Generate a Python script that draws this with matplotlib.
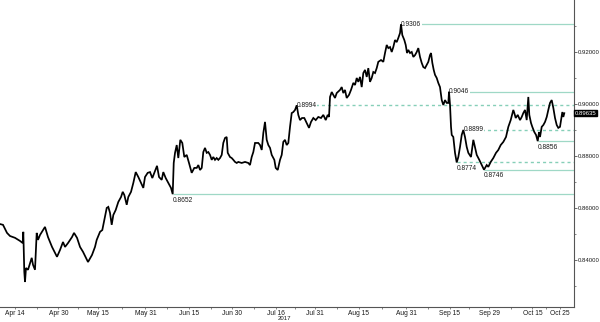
import numpy as np
import matplotlib
matplotlib.use("Agg")
import matplotlib.pyplot as plt
from matplotlib.transforms import blended_transform_factory

# x axis is trading time: weekdays counted from 14 Apr 2017
start_date = "2017-04-14"

session = [-3.80, -3.04, -2.53, -2.03, -1.27, 0.00, 1.27, 1.95, 2.10, 2.35, 2.53, 2.78, 3.29, 4.23, 4.56, 5.06,
           5.49, 5.82, 6.33, 7.59, 8.35, 9.37, 10.13, 10.63, 11.39, 12.15, 12.66, 13.42, 14.43, 14.94, 15.70,
           16.46, 17.22, 18.23, 18.48, 19.49, 20.25,
           20.68, 21.52, 22.10, 22.61, 23.22, 23.62, 24.05, 24.48, 24.89, 25.49, 26.15, 26.84, 27.27, 27.67,
           28.28, 28.68, 29.37, 29.95, 30.56, 31.22, 31.90, 32.48, 32.91, 33.59, 34.18, 34.76, 35.27, 35.95,
           36.46, 37.14, 37.54, 38.15, 38.81, 39.49, 39.92, 40.18, 40.51, 40.94, 41.34, 41.85, 42.35, 42.86,
           43.47, 44.05, 44.73, 45.39,
           46.00, 46.41, 46.84, 47.27, 47.67, 48.10, 48.53, 48.94, 49.37, 49.80, 50.20, 50.63, 51.06, 51.47,
           51.90, 52.33, 52.73, 53.16, 53.59, 53.85, 54.43, 54.86, 55.27, 55.70, 56.13, 56.53, 57.39, 58.23,
           59.06, 59.49, 59.92, 60.33, 60.76, 61.59, 62.03, 62.46, 62.86, 63.29, 63.72, 64.13, 64.56, 64.99,
           65.65, 66.00, 66.51, 67.09, 67.52, 67.92, 68.35, 68.78, 69.19, 69.62, 70.05, 70.46, 70.89, 71.32,
           71.72,
           72.15, 72.66, 73.24, 73.85, 74.43, 74.94, 75.52, 76.13, 76.78, 77.47, 78.05, 78.66, 79.16, 79.49,
           79.75, 80.18, 80.58, 81.01, 81.44, 82.28, 82.71, 83.11, 83.54, 83.97, 84.56, 85.06, 85.65, 86.08,
           86.51, 86.91, 87.34, 87.77, 88.18, 88.61, 89.04, 89.44, 89.87, 90.30, 90.71, 91.14, 91.57, 91.97,
           92.66, 93.24, 93.67, 94.10, 94.51, 94.94, 95.37, 95.77, 96.20, 96.63, 97.04,
           97.47, 97.72, 98.05, 98.56, 98.91, 99.24, 99.57, 100.00, 100.43, 100.84, 101.27, 101.70, 102.10,
           102.53, 102.96, 103.37, 103.80, 104.23, 104.63, 105.06, 105.32, 105.65, 106.00, 106.33, 106.76,
           107.16, 107.59, 108.03, 108.43, 108.86, 109.29, 109.70, 109.87, 110.13, 110.38, 110.56, 110.96,
           111.39, 111.82, 112.23, 112.66, 113.09, 113.49, 113.92, 114.35, 114.76, 115.44, 116.03,
           116.89, 117.54, 118.15, 118.73, 119.42, 119.82, 120.43, 121.09, 121.77, 122.35, 122.96, 123.62,
           124.30, 124.89, 125.49, 126.15, 126.41, 126.76, 127.27, 127.85, 128.28, 128.68, 129.11, 129.54,
           129.95, 130.20, 130.63, 130.96, 131.47, 131.90, 132.33, 132.66, 132.91, 133.34, 133.75, 134.18,
           134.61, 135.01, 135.44, 135.87, 136.28, 136.71, 137.14, 137.54, 137.97, 138.23, 138.56, 138.81,
           139.06]

rate = [0.8537, 0.8534, 0.8518, 0.8503, 0.8491, 0.8484, 0.8472, 0.8464, 0.8507, 0.8353, 0.8314, 0.8368, 0.8361,
        0.8407, 0.8380, 0.8361, 0.8503, 0.8476, 0.8495, 0.8526, 0.8487, 0.8449, 0.8426, 0.8411, 0.8437, 0.8468,
        0.8449, 0.8464, 0.8487, 0.8503, 0.8484, 0.8449, 0.8430, 0.8399, 0.8391, 0.8418, 0.8449,
        0.8476, 0.8507, 0.8514, 0.8553, 0.8599, 0.8603, 0.8580, 0.8534, 0.8572, 0.8591, 0.8622, 0.8641, 0.8661,
        0.8649, 0.8611, 0.8641, 0.8661, 0.8695, 0.8737, 0.8718, 0.8695, 0.8676, 0.8718, 0.8734, 0.8737, 0.8714,
        0.8734, 0.8761, 0.8718, 0.8707, 0.8737, 0.8714, 0.8695, 0.8676, 0.8652, 0.8772, 0.8811, 0.8841, 0.8791,
        0.8861, 0.8849, 0.8795, 0.8803, 0.8772, 0.8734, 0.8753,
        0.8753, 0.8764, 0.8745, 0.8753, 0.8814, 0.8830, 0.8811, 0.8814, 0.8803, 0.8784, 0.8795, 0.8784, 0.8791,
        0.8784, 0.8791, 0.8803, 0.8849, 0.8868, 0.8872, 0.8811, 0.8795, 0.8791, 0.8784, 0.8776, 0.8772, 0.8776,
        0.8772, 0.8776, 0.8772, 0.8764, 0.8795, 0.8814, 0.8849, 0.8849, 0.8841, 0.8822, 0.8887, 0.8930, 0.8861,
        0.8841, 0.8830, 0.8803, 0.8784, 0.8753, 0.8745, 0.8784, 0.8803, 0.8853, 0.8861, 0.8841, 0.8849, 0.8911,
        0.8964, 0.8968, 0.8976, 0.8994, 0.8957,
        0.8937, 0.8945, 0.8945, 0.8926, 0.8907, 0.8930, 0.8945, 0.8937, 0.8949, 0.8945, 0.8957, 0.8937, 0.8957,
        0.8949, 0.9026, 0.9045, 0.9034, 0.9022, 0.9041, 0.9053, 0.9064, 0.9041, 0.9053, 0.9022, 0.9034, 0.9053,
        0.9080, 0.9072, 0.9099, 0.9084, 0.9103, 0.9064, 0.9118, 0.9130, 0.9103, 0.9137, 0.9084, 0.9099, 0.9122,
        0.9118, 0.9137, 0.9161, 0.9168, 0.9161, 0.9195, 0.9226, 0.9214, 0.9218, 0.9199, 0.9218, 0.9245, 0.9237,
        0.9253,
        0.9272, 0.9306, 0.9264, 0.9245, 0.9226, 0.9195, 0.9207, 0.9195, 0.9199, 0.9180, 0.9187, 0.9199, 0.9214,
        0.9180, 0.9157, 0.9141, 0.9137, 0.9149, 0.9161, 0.9187, 0.9195, 0.9157, 0.9130, 0.9111, 0.9099, 0.9080,
        0.9064, 0.9014, 0.8995, 0.9014, 0.9003, 0.9003, 0.9046, 0.8995, 0.8911, 0.8880, 0.8872, 0.8811, 0.8774,
        0.8795, 0.8834, 0.8880, 0.8899, 0.8872, 0.8834, 0.8811, 0.8795, 0.8861,
        0.8803, 0.8784, 0.8764, 0.8746, 0.8764, 0.8757, 0.8776, 0.8791, 0.8811, 0.8822, 0.8841, 0.8853, 0.8872,
        0.8911, 0.8937, 0.8976, 0.8964, 0.8945, 0.8957, 0.8937, 0.8949, 0.8964, 0.8976, 0.8937, 0.9026, 0.8957,
        0.8926, 0.8911, 0.8891, 0.8880, 0.8856, 0.8891, 0.8872, 0.8911, 0.8918, 0.8930, 0.8949, 0.8976, 0.9003,
        0.9014, 0.8984, 0.8945, 0.8918, 0.8907, 0.8911, 0.8937, 0.8968, 0.8949, 0.89635]

tick_dates = ["2017-04-14", "2017-04-30", "2017-05-15", "2017-05-31", "2017-06-15", "2017-06-30",
              "2017-07-16", "2017-07-31", "2017-08-15", "2017-08-31", "2017-09-15", "2017-09-29",
              "2017-10-15", "2017-10-25"]
tick_labels = ["Apr 14", "Apr 30", "May 15", "May 31", "Jun 15", "Jun 30", "Jul 16", "Jul 31",
               "Aug 15", "Aug 31", "Sep 15", "Sep 29", "Oct 15", "Oct 25"]
year_label = "2017"
year_date = "2017-07-16"

level_values = [0.9306, 0.9046, 0.8994, 0.8899, 0.8856, 0.8774, 0.8746, 0.8652]
level_start = [97.72, 109.87, 71.32, 113.49, 132.33, 111.82, 118.73, 39.92]
level_is_high = [True, True, True, True, False, False, False, False]
level_dashed = [False, False, True, True, False, True, False, False]

last_price = 0.89635
y_ticks = [0.84, 0.86, 0.88, 0.90, 0.92]

plt.rcParams["font.family"] = ["Liberation Sans", "DejaVu Sans"]
LEVEL_COLOR = "#9fd8c6"
DASH_COLOR = "#86cfb8"
TXT = "#1a1a1a"
FS = 4.8
FSY = 4.35

fig = plt.figure(figsize=(6.0, 3.22), dpi=100)
ax = fig.add_axes([0.0, 0.0475, 0.9567, 0.9525])
xmin, xmax = -3.80, 141.52
ax.set_xlim(xmin, xmax)
ax.set_ylim(0.8219, 0.9399)

# support / resistance levels
for v, s, hi, dashed in zip(level_values, level_start, level_is_high, level_dashed):
    if dashed:
        ax.plot([s, xmax], [v, v], color=DASH_COLOR, lw=1.0, ls=(0, (2.2, 2.2)), zorder=1)
    else:
        ax.plot([s, xmax], [v, v], color=LEVEL_COLOR, lw=0.9, ls="-", zorder=1,
                solid_capstyle="butt")
    if hi:
        ax.text(s, v, f"{v:.4f}", ha="left", va="center", fontsize=FS, color=TXT, zorder=3,
                bbox=dict(facecolor="white", edgecolor="none", pad=0.4))
    else:
        ax.annotate(f"{v:.4f}", (s, v), xytext=(0, -1.8), textcoords="offset points",
                    ha="left", va="top", fontsize=FS, color=TXT, zorder=3)

ax.plot(session, rate, color="black", lw=1.25, zorder=4, solid_joinstyle="miter")

# axes styling
for sp in ["left", "top"]:
    ax.spines[sp].set_visible(False)
for sp in ["right", "bottom"]:
    ax.spines[sp].set_color("#555555")
    ax.spines[sp].set_linewidth(0.8)

ax.yaxis.tick_right()
ax.set_yticks(y_ticks)
ax.set_yticklabels([f"{t:.5f}" for t in y_ticks])
ax.set_yticks(np.arange(0.83, 0.94, 0.02), minor=True)
ax.tick_params(axis="y", which="major", direction="out", length=2.0, width=0.6, pad=0.5,
               labelsize=FSY, colors="#555555", labelcolor=TXT)
ax.tick_params(axis="y", which="minor", direction="out", length=1.5, width=0.5, colors="#555555")

tick_pos = np.busday_count(start_date, tick_dates)
ax.set_xticks(tick_pos)
ax.set_xticklabels(tick_labels)
mids = (tick_pos[:-1] + tick_pos[1:]) / 2.0
ax.set_xticks(mids, minor=True)
ax.tick_params(axis="x", which="major", direction="out", length=1.5, width=0.5, pad=1.0,
               labelsize=FS, colors="#555555", labelcolor=TXT)
ax.tick_params(axis="x", which="minor", direction="out", length=1.5, width=0.5, colors="#555555")

trans = blended_transform_factory(ax.transData, ax.transAxes)
ax.text(np.busday_count(start_date, year_date) + 0.4, -0.031, year_label, transform=trans,
        ha="left", va="top", fontsize=FSY, color=TXT)

# last price tag
ax.annotate(f"{last_price:.5f}", xy=(1.0, last_price), xycoords=("axes fraction", "data"),
            xytext=(0.6, 0), textcoords="offset points", ha="left", va="center",
            fontsize=FSY, color="white", annotation_clip=False,
            bbox=dict(facecolor="black", edgecolor="black", pad=0.4))

fig.savefig("out.png", dpi=100, facecolor="white")
